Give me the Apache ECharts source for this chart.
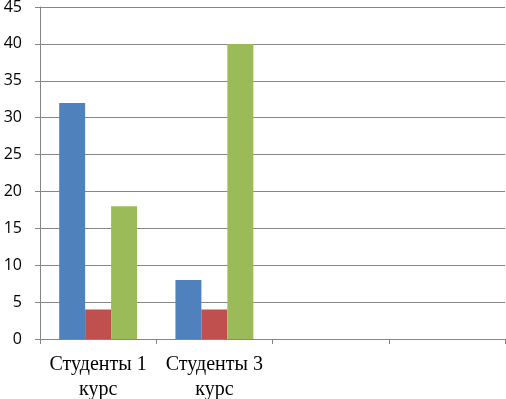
<!DOCTYPE html>
<html>
<head>
<meta charset="utf-8">
<script src="https://cdn.jsdelivr.net/npm/echarts@6/dist/echarts.min.js"></script>
<style>
  html, body { margin: 0; padding: 0; background: #fff; }
  #chart { width: 506px; height: 399px; }
</style>
</head>
<body>
<div id="chart"></div>
<script>
const categories = ['Студенты 1\nкурс', 'Студенты 3\nкурс', '', '']
const blueValues = [32, 8, null, null]
const redValues = [4, 4, null, null]
const greenValues = [18, 40, null, null]
const yTicks = { min: 0, max: 45, interval: 5 }

const chart = echarts.init(document.getElementById('chart'))

const barStyle = (name, data, color) => ({
  name,
  type: 'bar',
  data,
  barGap: '0%',
  barCategoryGap: '33%',
  itemStyle: { color }
})

const option = {
  animation: false,
  grid: {
    left: 40,
    right: 1,
    top: 7,
    bottom: 60,
    containLabel: false,
    outerBoundsMode: 'none'
  },
  xAxis: {
    type: 'category',
    data: categories,
    axisLine: { lineStyle: { color: '#868686', width: 1 } },
    axisTick: { show: true, length: 5, lineStyle: { color: '#868686' } },
    axisLabel: {
      interval: 0,
      margin: 13,
      color: '#000',
      fontFamily: 'Liberation Serif',
      fontSize: 20,
      lineHeight: 25
    }
  },
  yAxis: {
    type: 'value',
    min: yTicks.min,
    max: yTicks.max,
    interval: yTicks.interval,
    axisLine: { show: true, lineStyle: { color: '#868686', width: 1 } },
    axisTick: { show: true, length: 5, lineStyle: { color: '#868686' } },
    splitLine: { lineStyle: { color: '#868686', width: 1 } },
    axisLabel: {
      margin: 18,
      color: '#000',
      fontFamily: 'Open Sans',
      fontSize: 16
    }
  },
  series: [
    barStyle('s1', blueValues, '#4F81BD'),
    barStyle('s2', redValues, '#C0504D'),
    barStyle('s3', greenValues, '#9BBB59')
  ]
}

chart.setOption(option)
</script>
</body>
</html>
